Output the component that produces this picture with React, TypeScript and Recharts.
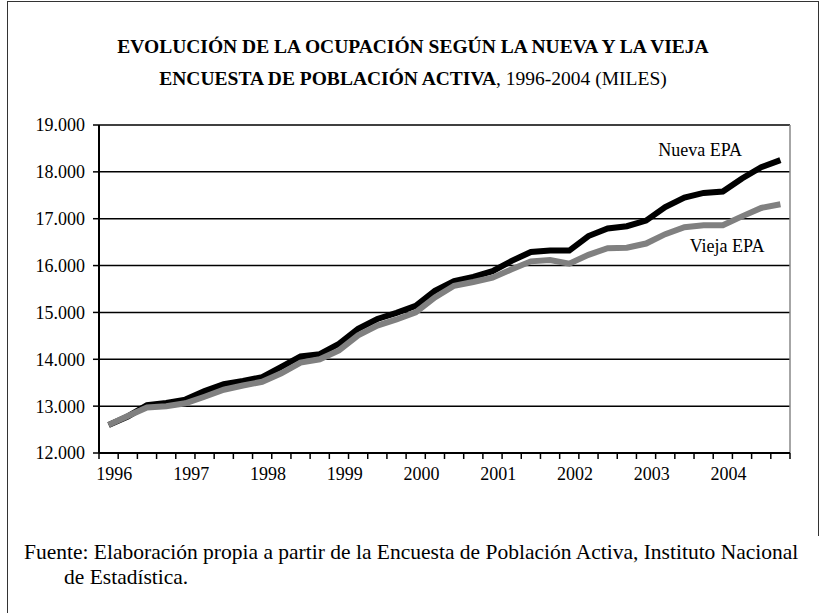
import { LineChart, Line, XAxis, YAxis, CartesianGrid, ReferenceLine } from 'recharts';

const years = ['1996', '1997', '1998', '1999', '2000', '2001', '2002', '2003', '2004'];
const quarters = years.flatMap(y => ['I', 'II', 'III', 'IV'].map(q => `${q}-${y}`));

// ocupados, miles (trimestral)
const nuevaEPA = [
  12600, 12780, 13020, 13070, 13140, 13320, 13470, 13540, 13620, 13840, 14060, 14110,
  14330, 14650, 14860, 14990, 15140, 15460, 15670, 15760, 15880, 16100, 16290, 16320,
  16320, 16630, 16790, 16840, 16960, 17250, 17450, 17550, 17580, 17860, 18100, 18250,
];
const viejaEPA = [
  12600, 12790, 12970, 13000, 13060, 13200, 13350, 13440, 13520, 13700, 13930, 14000,
  14190, 14510, 14720, 14850, 15000, 15320, 15570, 15650, 15740, 15920, 16090, 16120,
  16040, 16230, 16370, 16380, 16470, 16670, 16820, 16860, 16860, 17050, 17230, 17310,
];
const yTicks = [12000, 13000, 14000, 15000, 16000, 17000, 18000, 19000];

const data = quarters.map((q, i) => ({ q, x: i + 0.5, nueva: nuevaEPA[i], vieja: viejaEPA[i] }));
const quarterTicks = quarters.map((_, i) => i).concat(quarters.length);
// year label sits a little right of the first quarter's centre, as in the original
const yearTicks = years.map((_, i) => i * 4 + 0.8);

const FONT = '"Liberation Serif", "Times New Roman", serif';
const LABEL_AT = 33;

function thousands(v: number): string {
  return String(v).replace(/\B(?=(\d{3})+(?!\d))/g, '.');
}

export default function App() {
  return (
    <div style={{ position: 'absolute', left: 0, top: 0, width: 826, height: 613, background: '#fff', fontFamily: FONT }}>
      {/* marco */}
      <div style={{ position: 'absolute', left: 7, top: 1, width: 811, height: 612, borderLeft: '1px solid #333', borderTop: '1px solid #333' }} />
      <div style={{ position: 'absolute', left: 818, top: 1, width: 0, height: 535, borderLeft: '1px solid #333' }} />

      <div style={{ position: 'absolute', top: 31, left: 0, width: 826, textAlign: 'center', fontSize: 19.5, lineHeight: '32px', color: '#000' }}>
        <div style={{ fontWeight: 'bold' }}>EVOLUCIÓN DE LA OCUPACIÓN SEGÚN LA NUEVA Y LA VIEJA</div>
        <div><b>ENCUESTA DE POBLACIÓN ACTIVA</b>, 1996-2004 (MILES)</div>
      </div>

      <div style={{ position: 'absolute', left: 0, top: 0 }}>
        <LineChart width={826} height={613} data={data} margin={{ top: 125, right: 36, left: 39, bottom: 130 }}>
          <CartesianGrid xAxisId="q" vertical={false} stroke="#000" strokeWidth={1.5} />
          <XAxis
            xAxisId="q"
            dataKey="x"
            type="number"
            domain={[0, quarters.length]}
            ticks={quarterTicks}
            tickFormatter={() => ''}
            height={6}
            tickSize={6}
            axisLine={{ stroke: '#000', strokeWidth: 2 }}
            tickLine={{ stroke: '#000', strokeWidth: 1.5 }}
          />
          <XAxis
            xAxisId="yr"
            dataKey="x"
            type="number"
            domain={[0, quarters.length]}
            ticks={yearTicks}
            tickFormatter={(v) => years[Math.round((v - 0.8) / 4)]}
            height={24}
            tickSize={0}
            tickMargin={8}
            axisLine={false}
            tickLine={false}
            tick={{ fill: '#000', fontSize: 18, fontFamily: FONT }}
          />
          <YAxis
            domain={[12000, 19000]}
            ticks={yTicks}
            width={60}
            tickSize={6}
            tickMargin={8}
            tickFormatter={thousands}
            axisLine={{ stroke: '#000', strokeWidth: 2 }}
            tickLine={{ stroke: '#000', strokeWidth: 1.5 }}
            tick={{ fill: '#000', fontSize: 18, fontFamily: FONT }}
          />
          <ReferenceLine xAxisId="q" x={quarters.length} stroke="#888" strokeWidth={1.5} />
          <Line
            xAxisId="q"
            dataKey="nueva"
            stroke="#000"
            strokeWidth={6}
            dot={false}
            isAnimationActive={false}
            label={(p: any) =>
              p.index === LABEL_AT ? (
                <text key="lbl-n" x={p.x} y={p.y - 22} textAnchor="end" fontSize={18} fontFamily={FONT} fill="#000">
                  Nueva EPA
                </text>
              ) : null
            }
          />
          <Line
            xAxisId="q"
            dataKey="vieja"
            stroke="#808080"
            strokeWidth={6}
            dot={false}
            isAnimationActive={false}
            label={(p: any) =>
              p.index === LABEL_AT ? (
                <text key="lbl-v" x={p.x - 15} y={p.y + 36} textAnchor="middle" fontSize={18} fontFamily={FONT} fill="#000">
                  Vieja EPA
                </text>
              ) : null
            }
          />
        </LineChart>
      </div>

      <div style={{ position: 'absolute', left: 24, top: 540, fontSize: 21.5, lineHeight: '25px', color: '#000', whiteSpace: 'nowrap' }}>
        <div>Fuente: Elaboración propia a partir de la Encuesta de Población Activa, Instituto Nacional</div>
        <div style={{ paddingLeft: 40 }}>de Estadística.</div>
      </div>
    </div>
  );
}
